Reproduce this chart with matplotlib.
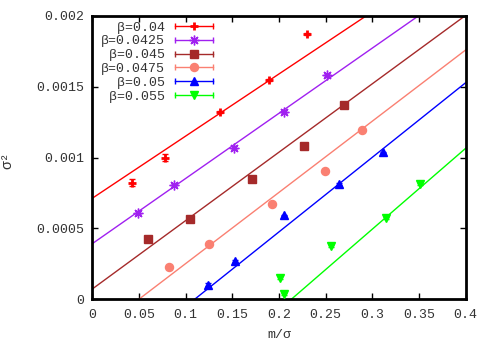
import matplotlib
matplotlib.use("Agg")
import matplotlib.pyplot as plt
import numpy as np
from matplotlib.lines import Line2D
from matplotlib.legend_handler import HandlerBase
from matplotlib.ticker import FixedLocator, FixedFormatter

# ---------------- data ----------------
labels = ["β=0.04", "β=0.0425", "β=0.045", "β=0.0475", "β=0.05", "β=0.055"]
colors = ["#ff0000", "#a020f0", "#a52a2a", "#fa8072", "#0000ff", "#00ff00"]
markers = ["+", (8, 2, 0), "s", "o", "^", "v"]

x_004 = [0.0422, 0.0782, 0.1368, 0.1896, 0.2303]
y_004 = [0.000822, 0.000999, 0.001322, 0.001548, 0.001873]
e_004 = [0.000025, 0.000025, 0.000008, 0.000008, 0.000008]

x_00425 = [0.0493, 0.0872, 0.1518, 0.2057, 0.2511]
y_00425 = [0.000610, 0.000806, 0.001069, 0.001324, 0.001583]
e_00425 = [0.000010, 0.000010, 0.000010, 0.000010, 0.000010]

x_0045 = [0.0600, 0.1047, 0.1711, 0.2268, 0.2696]
y_0045 = [0.000422, 0.000563, 0.000850, 0.001083, 0.001373]
e_0045 = [0.000005, 0.000005, 0.000005, 0.000005, 0.000005]

x_00475 = [0.0818, 0.1253, 0.1925, 0.2493, 0.2892]
y_00475 = [0.000228, 0.000389, 0.000669, 0.000907, 0.001194]
e_00475 = [0.000005, 0.000005, 0.000005, 0.000005, 0.000005]

x_005 = [0.1239, 0.1529, 0.2057, 0.2639, 0.3117]
y_005 = [0.000101, 0.000266, 0.000591, 0.000813, 0.001037]
e_005 = [0.000010, 0.000008, 0.000005, 0.000005, 0.000005]

x_0055 = [0.2011, 0.2057, 0.2557, 0.3143, 0.3511]
y_0055 = [0.000151, 0.0000353, 0.000377, 0.000570, 0.000811]
e_0055 = [0.000010, 0.000010, 0.000008, 0.000008, 0.000008]

# linear fits: sigma^2 = a + b * (m/sigma)
fit_a = [0.000712, 0.000391, 0.0000707, -0.000253, -0.000580, -0.001220]
fit_b = [0.004393, 0.004608, 0.004835, 0.005033, 0.005272, 0.005713]

xs = [x_004, x_00425, x_0045, x_00475, x_005, x_0055]
ys = [y_004, y_00425, y_0045, y_00475, y_005, y_0055]
es = [e_004, e_00425, e_0045, e_00475, e_005, e_0055]

xticks = [0, 0.05, 0.1, 0.15, 0.2, 0.25, 0.3, 0.35, 0.4]
xticklabels = ["0", "0.05", "0.1", "0.15", "0.2", "0.25", "0.3", "0.35", "0.4"]
yticks = [0, 0.0005, 0.001, 0.0015, 0.002]
yticklabels = ["0", "0.0005", "0.001", "0.0015", "0.002"]

# ---------------- plot ----------------
FONT = ["Liberation Mono", "DejaVu Sans Mono"]
plt.rcParams["font.family"] = FONT
FS = 9.5

fig = plt.figure(figsize=(4.91, 3.43), dpi=100)
ax = fig.add_axes([92.3 / 491, 1 - 299 / 343, (465.7 - 92.3) / 491, (299 - 16) / 343])

msizes = [6, 7, 5.8, 5.8, 5.5, 5.5]
mews = [2.0, 1.0, 1.0, 1.0, 1.0, 1.0]

xline = np.linspace(0, 0.4, 200)
for i in range(6):
    ax.plot(xline, fit_a[i] + fit_b[i] * xline, color=colors[i], lw=1.0, zorder=2)
    ax.errorbar(xs[i], ys[i], yerr=es[i], fmt="none", ecolor=colors[i],
                elinewidth=1.0, capsize=2.5, capthick=1.0, zorder=3)
    ax.plot(xs[i], ys[i], ls="none", marker=markers[i], color=colors[i],
            ms=msizes[i], mew=mews[i], zorder=4)

ax.set_xlim(0, 0.4)
ax.set_ylim(0, 0.002)
ax.xaxis.set_major_locator(FixedLocator(xticks))
ax.xaxis.set_major_formatter(FixedFormatter(xticklabels))
ax.yaxis.set_major_locator(FixedLocator(yticks))
ax.yaxis.set_major_formatter(FixedFormatter(yticklabels))
ax.tick_params(direction="in", length=4, width=1, top=True, right=True,
               labelsize=FS, labelcolor="#333333")
ax.tick_params(axis="x", pad=7)
ax.tick_params(axis="y", pad=6)
for s in ax.spines.values():
    s.set_linewidth(2)

ax.set_xlabel("m/σ", fontsize=FS, color="#333333")
ax.xaxis.set_label_coords(0.5, -0.105)
ax.set_ylabel("σ²", fontsize=FS + 1, color="#333333")
ax.yaxis.set_label_coords(-0.21, 0.49)


class ErrHandler(HandlerBase):
    def create_artists(self, legend, orig, xdescent, ydescent, width, height,
                       fontsize, trans):
        c = orig.get_color()
        y = height / 2 - ydescent
        x0, x1 = -xdescent, width - xdescent
        ln = Line2D([x0, x1], [y, y], color=c, lw=1.0, transform=trans)
        caps = Line2D([x0, x1], [y, y], ls="none", marker="|", ms=5, mew=1.0,
                      color=c, transform=trans)
        mk = Line2D([(x0 + x1) / 2], [y], ls="none", marker=orig.get_marker(),
                    ms=orig.get_markersize(), mew=orig.get_markeredgewidth(),
                    color=c, transform=trans)
        return [ln, caps, mk]


handles = [Line2D([], [], color=colors[i], marker=markers[i], ms=msizes[i],
                  mew=mews[i]) for i in range(6)]
maxlen = max(len(l) for l in labels)
padded = [" " * (maxlen - len(l)) + l for l in labels]
leg = ax.legend(handles, padded, handler_map={Line2D: ErrHandler()},
                loc="upper left", bbox_to_anchor=(0.008, 1.0), frameon=False,
                markerfirst=False, fontsize=FS, labelspacing=0.12,
                handlelength=2.9, handletextpad=0.8, borderaxespad=0.2,
                borderpad=0.2)
for t in leg.get_texts():
    t.set_color("#333333")

fig.savefig("out.png", dpi=100)
